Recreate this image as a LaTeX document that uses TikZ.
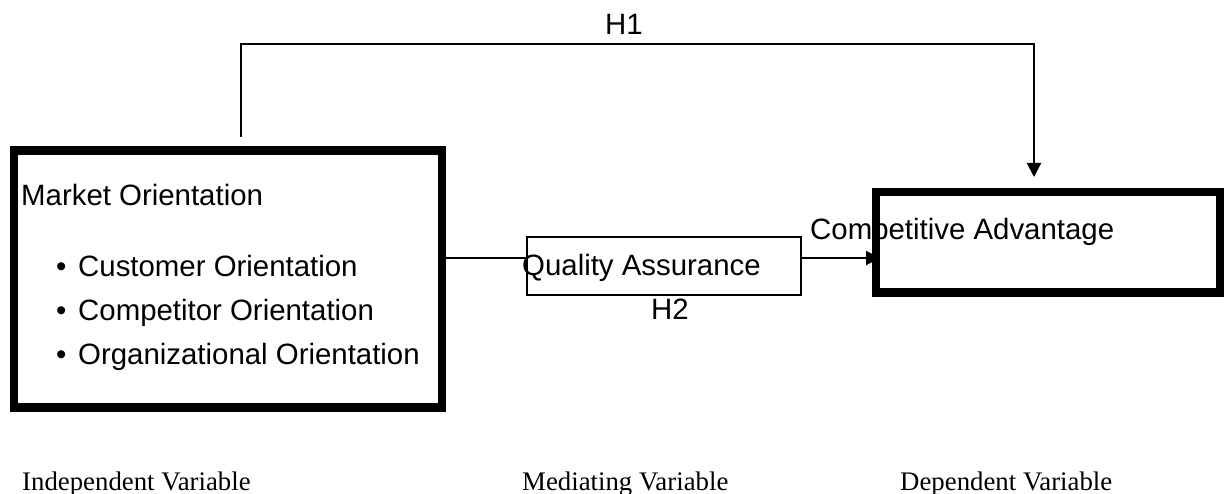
\documentclass[tikz,border=0pt]{standalone}
\usepackage{fontspec}
\setmainfont{Liberation Sans}
\newfontfamily\tnr{Liberation Serif}
\usetikzlibrary{arrows.meta}
\tikzset{
  thickbox/.style={draw, line width=8.5pt, rectangle, inner sep=0pt},
  thinbox/.style={draw, line width=1.5pt, rectangle, inner sep=0pt},
  lbl/.style={inner sep=0pt, anchor=base west, font=\fontsize{29.4}{34}\selectfont},
  clbl/.style={inner sep=0pt, anchor=base, font=\fontsize{29.4}{34}\selectfont},
  captxt/.style={inner sep=0pt, anchor=base west, font=\tnr\fontsize{26.8}{30}\selectfont},
  conn/.style={line width=2pt},
  arr/.style={line width=2pt, -{Triangle[length=14pt,width=14pt]}}
}
\begin{document}
\begin{tikzpicture}[x=1pt,y=-1pt]
\useasboundingbox (0,0) rectangle (1224,494);
% boxes
\node[thickbox, minimum width=428pt, minimum height=257pt] (mo) at (228,279) {};
\node[thinbox, minimum width=274pt, minimum height=58pt] (qa) at (664,266) {};
\node[thickbox, minimum width=344pt, minimum height=100.5pt] (ca) at (1048,242.25) {};
% texts
\node[lbl] (motitle) at (21,206) {Market Orientation};
\node[lbl] (b1) at (56,277) {\textbullet};
\node[lbl] (b2) at (56,321) {\textbullet};
\node[lbl] (b3) at (56,365) {\textbullet};
\node[lbl] (t1) at (78,277) {Customer Orientation};
\node[lbl] (t2) at (78,321) {Competitor Orientation};
\node[lbl] (t3) at (78,365) {Organizational Orientation};
\node[lbl] (qatext) at (522,276) {Quality Assurance};
\node[lbl] (catext) at (810,240) {Competitive Advantage};
\node[clbl] (h1) at (624,35) {H1};
\node[clbl] (h2) at (670,320) {H2};
\node[captxt] (iv) at (22,490) {Independent Variable};
\node[captxt] (mv) at (522,490) {Mediating Variable};
\node[captxt] (dv) at (900,490) {Dependent Variable};
% connectors
\coordinate (h1start) at (241,137);
\coordinate (h1a) at (241,44);
\coordinate (h1b) at (1034,44);
\coordinate (h1tip) at (1034,177);
\coordinate (catip) at (880,258);
\draw[arr] (h1start) -- (h1a) -- (h1b) -- (h1tip);
\draw[conn] (mo.east |- catip) -- (qa.west |- catip);
\draw[arr] (qa.east |- catip) -- (catip);
\end{tikzpicture}
\end{document}
